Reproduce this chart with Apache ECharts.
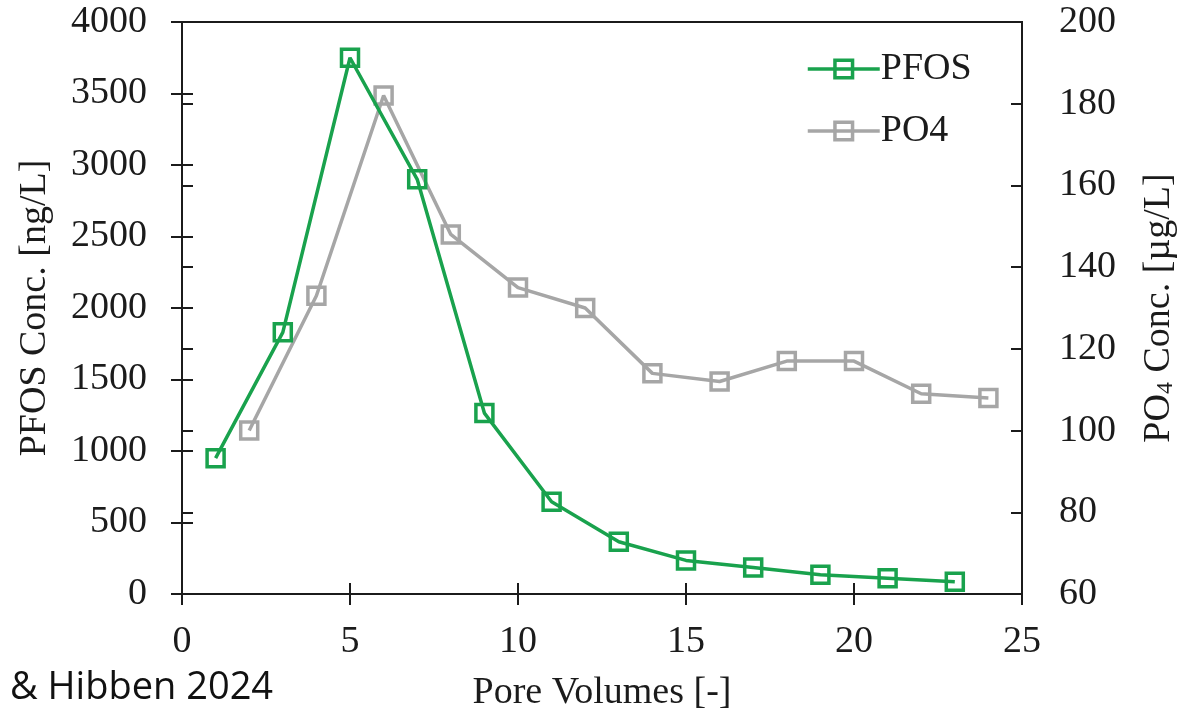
<!DOCTYPE html>
<html>
<head>
<meta charset="utf-8">
<title>PFOS and PO4 breakthrough</title>
<script src="https://cdn.jsdelivr.net/npm/echarts@6/dist/echarts.min.js"></script>
<style>
  html, body { margin: 0; padding: 0; background: #fff; }
  #chart { width: 1204px; height: 720px; }
</style>
</head>
<body>
<div id="chart"></div>
<script>
// Pore volumes sampled for each analyte
const pfosPV = [1, 3, 5, 7, 9, 11, 13, 15, 17, 19, 21, 23];
const pfosConc = [950, 1830, 3750, 2900, 1265, 645, 365, 235, 185, 135, 110, 85]; // ng/L

const po4PV = [2, 4, 6, 8, 10, 12, 14, 16, 18, 20, 22, 24];
const po4Conc = [100, 133, 182, 148, 135, 130, 114, 112, 117, 117, 109, 108]; // µg/L

const xTicks = { min: 0, max: 25, interval: 5 };
const leftTicks = { min: 0, max: 4000, interval: 500 };
const rightTicks = { min: 60, max: 200, interval: 20 };

const GREEN = '#19a24d';
const GREY = '#a6a6a6';
const INK = '#1b1b1b';
const SERIF = '"Liberation Serif", "DejaVu Serif", serif';

const chart = echarts.init(document.getElementById('chart'), null, { renderer: 'canvas' });

const baseLabel = { color: INK, fontFamily: SERIF, fontSize: 38, formatter: v => String(v) };
const tickStyle = { color: INK, width: 2 };

function pairs(xs, ys) { return xs.map((x, i) => [x, ys[i]]); }

const option = {
  backgroundColor: '#fff',
  animation: false,
  grid: {
    left: 182, right: 182, top: 22, bottom: 126,
    show: true, borderColor: INK, borderWidth: 2, backgroundColor: 'transparent'
  },
  legend: {
    orient: 'vertical',
    left: 801, top: 45,
    itemWidth: 72, itemHeight: 22, itemGap: 24,
    lineStyle: { width: 3.5 },
    itemStyle: { borderWidth: 3.5 },
    textStyle: { color: INK, fontFamily: SERIF, fontSize: 38, padding: [0, 0, 0, -4] },
    data: ['PFOS', 'PO4']
  },
  xAxis: [
    {
      type: 'value', min: xTicks.min, max: xTicks.max, interval: xTicks.interval,
      name: 'Pore Volumes [-]', nameLocation: 'middle', nameGap: 80,
      nameTextStyle: { color: INK, fontFamily: SERIF, fontSize: 38 },
      axisLine: { lineStyle: { color: INK, width: 2 } },
      axisTick: { length: 11, lineStyle: tickStyle },
      axisLabel: Object.assign({}, baseLabel, { margin: 29 }),
      splitLine: { show: false }
    },
    {
      type: 'value', min: xTicks.min, max: xTicks.max, interval: xTicks.interval,
      position: 'bottom',
      axisLine: { show: false },
      axisTick: { inside: true, length: 11, lineStyle: tickStyle },
      axisLabel: { show: false },
      splitLine: { show: false }
    }
  ],
  yAxis: [
    {
      type: 'value', position: 'left',
      min: leftTicks.min, max: leftTicks.max, interval: leftTicks.interval,
      name: 'PFOS Conc. [ng/L]', nameLocation: 'middle', nameGap: 128, nameRotate: 90,
      nameTextStyle: { color: INK, fontFamily: SERIF, fontSize: 38 },
      axisLine: { show: true, lineStyle: { color: INK, width: 2 } },
      axisTick: { show: true, length: 11, lineStyle: tickStyle },
      axisLabel: Object.assign({}, baseLabel, { margin: 35 }),
      splitLine: { show: false }
    },
    {
      type: 'value', position: 'right',
      min: rightTicks.min, max: rightTicks.max, interval: rightTicks.interval,
      name: '{t|PO}{s|4}{t| Conc. [µg/L]}', nameLocation: 'middle', nameGap: 112, nameRotate: 90,
      nameTextStyle: {
        color: INK, fontFamily: SERIF, fontSize: 38,
        rich: {
          t: { color: INK, fontFamily: SERIF, fontSize: 38, verticalAlign: 'bottom', lineHeight: 44 },
          s: { color: INK, fontFamily: SERIF, fontSize: 24, verticalAlign: 'bottom', lineHeight: 44 }
        }
      },
      axisLine: { show: true, lineStyle: { color: INK, width: 2 } },
      axisTick: { show: true, length: 11, lineStyle: tickStyle },
      axisLabel: Object.assign({}, baseLabel, { margin: 37 }),
      splitLine: { show: false }
    },
    {
      type: 'value', position: 'left',
      min: leftTicks.min, max: leftTicks.max, interval: leftTicks.interval,
      axisLine: { show: false },
      axisTick: { show: true, inside: true, length: 11, lineStyle: tickStyle },
      axisLabel: { show: false },
      splitLine: { show: false }
    },
    {
      type: 'value', position: 'right',
      min: rightTicks.min, max: rightTicks.max, interval: rightTicks.interval,
      axisLine: { show: false },
      axisTick: { show: true, inside: true, length: 11, lineStyle: tickStyle },
      axisLabel: { show: false },
      splitLine: { show: false }
    }
  ],
  graphic: [
    {
      type: 'text', left: 10, top: 669,
      style: { text: '& Hibben 2024', fill: '#111', font: '38px "Open Sans", "Noto Sans", sans-serif' }
    }
  ],
  series: [
    {
      name: 'PO4', type: 'line', xAxisIndex: 0, yAxisIndex: 1,
      data: pairs(po4PV, po4Conc),
      symbol: 'rect', symbolSize: 17,
      itemStyle: { color: 'rgba(255,255,255,0)', borderColor: GREY, borderWidth: 3.5 },
      lineStyle: { color: GREY, width: 3.5 },
      z: 2
    },
    {
      name: 'PFOS', type: 'line', xAxisIndex: 0, yAxisIndex: 0,
      data: pairs(pfosPV, pfosConc),
      symbol: 'rect', symbolSize: 17,
      itemStyle: { color: 'rgba(255,255,255,0)', borderColor: GREEN, borderWidth: 3.5 },
      lineStyle: { color: GREEN, width: 3.5 },
      z: 3
    }
  ]
};

chart.setOption(option);
</script>
</body>
</html>
